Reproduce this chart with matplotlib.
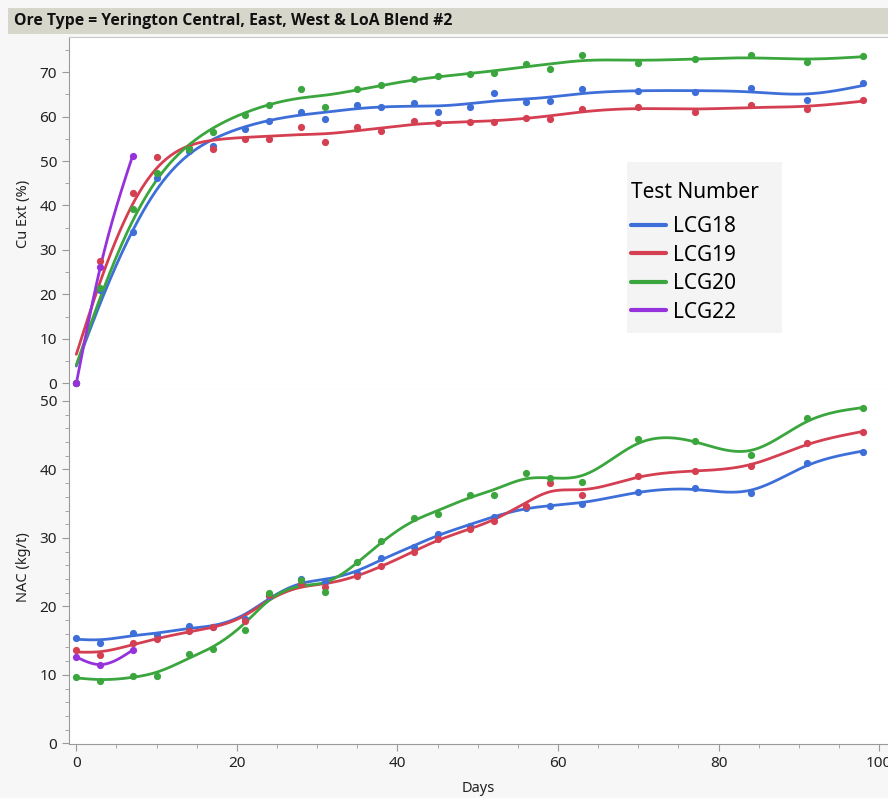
import numpy as np
import matplotlib
matplotlib.use("Agg")
import matplotlib.pyplot as plt
from matplotlib.ticker import MultipleLocator
from matplotlib.patches import Rectangle

plt.rcParams['font.family'] = ['Noto Sans', 'DejaVu Sans']

# ---------------- data ----------------
days = [0, 3, 7, 10, 14, 17, 21, 24, 28, 31, 35, 38, 42, 45, 49, 52, 56, 59, 63, 70, 77, 84, 91, 98]
days_22 = [0, 3, 7]

cu_lcg18 = [0, 21, 34.1, 46.1, 52.2, 53.4, 57.2, 59.0, 61.1, 59.4, 62.6, 62.2, 63.1, 61.1, 62.2, 65.3,
            63.3, 63.5, 66.1, 65.7, 65.6, 66.5, 63.7, 67.6]
cu_lcg19 = [0, 27.6, 42.9, 50.8, 53.0, 52.6, 54.9, 54.9, 57.6, 54.2, 57.6, 56.8, 59.1, 58.5, 58.8, 58.8,
            59.7, 59.5, 61.7, 62.1, 61.1, 62.6, 61.8, 63.7]
cu_lcg20 = [0, 21.4, 39.2, 47.2, 52.8, 56.6, 60.3, 62.6, 66.3, 62.1, 66.3, 67.2, 68.4, 69.1, 69.6, 69.8,
            71.8, 70.8, 73.9, 72.0, 72.9, 73.8, 72.3, 73.7]
cu_lcg22 = [0, 26.2, 51.1]

nac_lcg18 = [15.4, 14.7, 16.1, 15.8, 17.2, 17.0, 18.2, 21.5, 24.0, 23.5, 24.9, 27.1, 28.7, 30.5, 31.8, 33.1,
             34.4, 34.7, 35.0, 36.7, 37.3, 36.5, 40.9, 42.6]
nac_lcg19 = [13.6, 12.9, 14.6, 15.3, 16.4, 17.0, 17.8, 21.6, 23.2, 22.9, 24.4, 25.9, 27.9, 29.9, 31.3, 32.4,
             34.7, 38.0, 36.2, 39.1, 39.8, 40.5, 43.8, 45.5]
nac_lcg20 = [9.7, 9.1, 9.9, 9.9, 13.0, 13.8, 16.6, 22.0, 23.8, 22.1, 26.5, 29.5, 32.9, 33.5, 36.3, 36.3,
             39.5, 38.8, 38.2, 44.4, 44.2, 42.1, 47.5, 48.9]
nac_lcg22 = [12.6, 11.5, 13.6]

tests = ['LCG18', 'LCG19', 'LCG20', 'LCG22']
colors = {'LCG18': '#3e6fd8', 'LCG19': '#d43f52', 'LCG20': '#3aa63d', 'LCG22': '#9632dc'}

title = 'Ore Type = Yerington Central, East, West & LoA Blend #2'


# ---------------- smoothing spline (Reinsch) ----------------
def smooth_spline(x, y, lam, npts=400):
    x = np.asarray(x, float)
    y = np.asarray(y, float)
    n = len(x)
    h = np.diff(x)
    Q = np.zeros((n, n - 2))
    R = np.zeros((n - 2, n - 2))
    for j in range(n - 2):
        i = j + 1
        Q[i - 1, j] = 1.0 / h[i - 1]
        Q[i, j] = -1.0 / h[i - 1] - 1.0 / h[i]
        Q[i + 1, j] = 1.0 / h[i]
        R[j, j] = (h[i - 1] + h[i]) / 3.0
        if j + 1 < n - 2:
            R[j, j + 1] = h[i] / 6.0
            R[j + 1, j] = h[i] / 6.0
    K = Q @ np.linalg.solve(R, Q.T)
    g = np.linalg.solve(np.eye(n) + lam * K, y)
    gam = np.zeros(n)
    gam[1:-1] = np.linalg.solve(R, Q.T @ g)
    t = np.linspace(x[0], x[-1], npts)
    idx = np.clip(np.searchsorted(x, t, side='right') - 1, 0, n - 2)
    xi, xi1 = x[idx], x[idx + 1]
    hi = xi1 - xi
    a = t - xi
    b = xi1 - t
    f = (a * g[idx + 1] + b * g[idx]) / hi - a * b / 6.0 * (
        (1 + a / hi) * gam[idx + 1] + (1 + b / hi) * gam[idx])
    return t, f


# ---------------- figure ----------------
W, H = 888, 798
fig = plt.figure(figsize=(W / 100, H / 100), dpi=100, facecolor='#f7f7f7')

# title bar
fig.patches.append(Rectangle((8 / W, 1 - 34 / H), 1 - 8 / W, 26 / H, transform=fig.transFigure,
                             facecolor='#d7d6ca', edgecolor='none', zorder=0))
fig.text(14 / W, 1 - 21 / H, title, fontsize=11.3, fontweight='bold', va='center', ha='left',
         color='#111111', family=['Open Sans', 'DejaVu Sans'])

axL, axR = 69 / W, 1.0
AXW = W - 69
ax1 = fig.add_axes([axL, 1 - 390 / H, axR - axL, (390 - 37) / H])
ax2 = fig.add_axes([axL, 1 - 744 / H, axR - axL, (744 - 390) / H])

top = {'LCG18': (days, cu_lcg18), 'LCG19': (days, cu_lcg19), 'LCG20': (days, cu_lcg20), 'LCG22': (days_22, cu_lcg22)}
bot = {'LCG18': (days, nac_lcg18), 'LCG19': (days, nac_lcg19), 'LCG20': (days, nac_lcg20), 'LCG22': (days_22, nac_lcg22)}

for ax, data, LAM in ((ax1, top, 55.0), (ax2, bot, 8.0)):
    for name in tests:
        x, y = data[name]
        c = colors[name]
        lam = LAM if len(x) > 3 else 0.0
        t, f = smooth_spline(x, y, lam)
        ax.plot(t, f, color=c, lw=2.0, label=name, zorder=3, solid_capstyle='round')
        ax.plot(x, y, 'o', color=c, ms=5.2, zorder=4, mec='none')

for ax in (ax1, ax2):
    ax.set_facecolor('white')
    ax.set_xlim(-0.91, 101.1)
    ax.xaxis.set_major_locator(MultipleLocator(20))
    ax.xaxis.set_minor_locator(MultipleLocator(5))
    ax.spines['right'].set_visible(False)
    ax.spines['left'].set_color('#9a9a9a')
    ax.spines['top'].set_color('#c8c8c8')
    ax.spines['bottom'].set_color('#d0d0d0')
    ax.tick_params(axis='both', colors='#9a9a9a', labelcolor='#222222', labelsize=11, length=5)
    ax.tick_params(axis='both', which='minor', colors='#9a9a9a', length=3)

ax1.set_ylim(-1.5, 77.9)
ax1.yaxis.set_major_locator(MultipleLocator(10))
ax1.yaxis.set_minor_locator(MultipleLocator(5))
ax1.tick_params(axis='x', which='both', bottom=False, labelbottom=False)
ax1.set_ylabel('Cu Ext (%)', fontsize=10.5, color='#222222')

ax2.set_ylim(-0.1, 51.6)
ax2.yaxis.set_major_locator(MultipleLocator(10))
ax2.yaxis.set_minor_locator(MultipleLocator(2))
ax2.spines['top'].set_visible(False)
ax2.spines['bottom'].set_color('#9a9a9a')
ax2.set_ylabel('NAC (kg/t)', fontsize=10.5, color='#222222')
ax2.set_xlabel('Days', fontsize=10.5, color='#222222', labelpad=7)

ax1.yaxis.set_label_coords((31 - 69) / AXW, 0.5)
ax2.yaxis.set_label_coords((31 - 69) / AXW, 0.5)

# legend background box (pixels 627..782 x 162..333)
ax1H = 390 - 37
ax1.add_patch(Rectangle(((627 - 69) / AXW, (390 - 333) / ax1H), (782 - 627) / AXW, (333 - 162) / ax1H,
                        transform=ax1.transAxes, facecolor='#f4f4f4', edgecolor='none', zorder=5))

handles, labels = ax1.get_legend_handles_labels()
leg = ax1.legend(handles, labels, title='Test Number', loc='upper left',
                 bbox_to_anchor=((631 - 69) / AXW, (390 - 182) / ax1H),
                 fontsize=15, title_fontsize=15, frameon=False, handlelength=1.7,
                 handletextpad=0.3, labelspacing=0.36, borderpad=0, borderaxespad=0)
leg.set_zorder(6)
leg._legend_box.align = 'left'
leg._legend_box.sep = 9.5
for line in leg.get_lines():
    line.set_linewidth(3)

fig.savefig('out.png', dpi=100, facecolor=fig.get_facecolor())
